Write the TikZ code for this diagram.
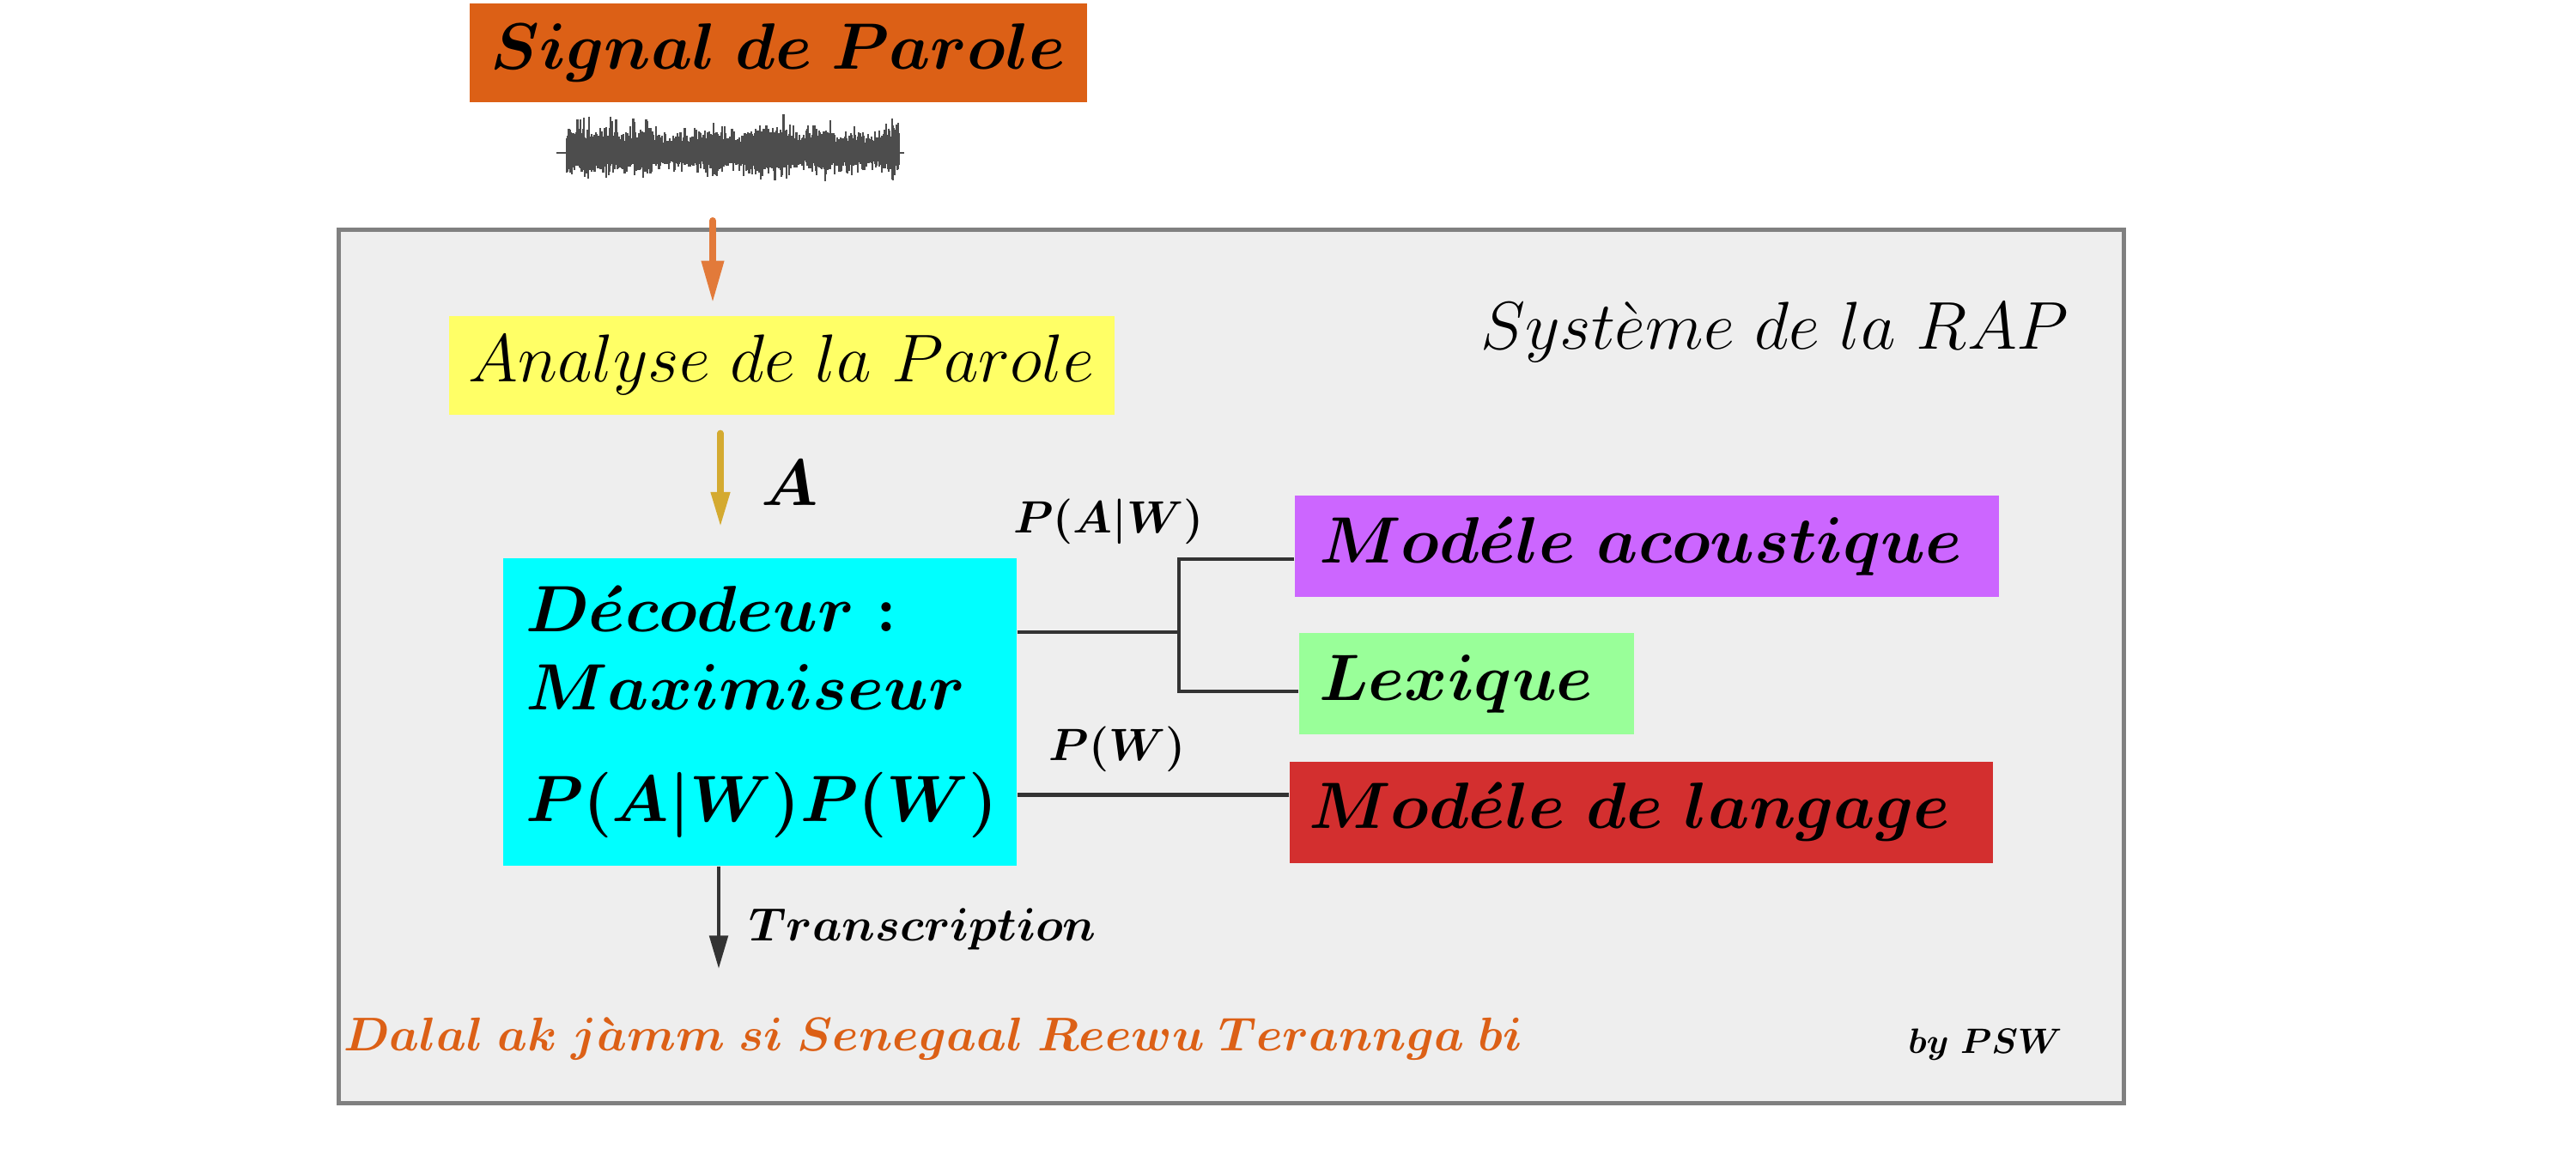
\RequirePackage{fix-cm}
\documentclass[tikz,border=0pt]{standalone}
\usepackage{amsmath}
\usetikzlibrary{arrows.meta,positioning,calc}

\definecolor{signalorange}{RGB}{220,96,22}
\definecolor{arroworange}{RGB}{226,122,58}
\definecolor{gold}{RGB}{212,170,48}
\definecolor{anaYellow}{RGB}{255,255,102}
\definecolor{decCyan}{RGB}{0,255,255}
\definecolor{acPurple}{RGB}{204,102,255}
\definecolor{lexGreen}{RGB}{153,255,153}
\definecolor{langRed}{RGB}{211,47,47}
\definecolor{boxfill}{RGB}{238,238,238}
\definecolor{boxgray}{RGB}{128,128,128}
\definecolor{linkgray}{RGB}{51,51,51}
\definecolor{wavegray}{RGB}{77,77,77}

\begin{document}
\begin{tikzpicture}[
  bigbf/.style={font=\boldmath\fontsize{21.7}{26}\selectfont},
  bigit/.style={font=\fontsize{22.4}{27}\selectfont},
  bloc/.style={inner sep=0pt, minimum height=1.15cm},
  modele/.style={bigbf, inner xsep=0.28cm, inner ysep=0pt, align=left,
    minimum height=1.18cm},
  lien/.style={draw=linkgray, line width=1.3pt},
  wave/.style={draw=wavegray, line width=0.6pt},
  lbl/.style={font=\boldmath\fontsize{15}{18}\selectfont, anchor=base}
]
  \useasboundingbox (0,0) rectangle (30,-13.38);

  % speech signal on top
  \node[bloc, bigbf, fill=signalorange, minimum width=7.19cm] (sig)
    at (9.065,-0.615) {$Signal\ de\ Parole$};

  \pgfmathsetseed{42}
  \foreach \k in {0,...,310} {
    \pgfmathsetmacro{\env}{0.85+0.2*sin(\k*4.3)*cos(\k*1.9)+0.1*sin(\k*11)}
    \pgfmathsetmacro{\xx}{6.60+\k*0.0125}
    \pgfmathsetmacro{\up}{\env*(0.17+0.1*rnd+0.2*rnd^4)}
    \pgfmathsetmacro{\dn}{\env*(0.13+0.08*rnd+0.16*rnd^4)}
    \draw[wave] (\xx,-1.78+\up) -- (\xx,-1.78-\dn);
  }
  \draw[wave] (6.48,-1.78) -- (10.53,-1.78);

  % the RAP system
  \node[draw=boxgray, fill=boxfill, line width=1.4pt, anchor=north west,
        minimum width=20.79cm, minimum height=10.17cm] (rap) at (3.92,-2.65) {};
  \node[bigit, anchor=base east] (rapl) at (24.22,-4.06)
    {$Syst\grave{e}me\ de\ la\ RAP$};

  \node[bloc, bigit, fill=anaYellow, minimum width=7.75cm] (ana)
    at (9.10,-4.25) {$Analyse\ de\ la\ Parole$};

  \node[bigbf, fill=decCyan, inner xsep=0.26cm, text width=5.46cm, align=left,
        minimum height=3.58cm] (dec) at (8.85,-8.29)
    {$D\acute{e}codeur\ {:}$\\ $Maximiseur$\\[11pt] $P(A|W)P(W)$};

  \node[bigbf] (A) at (9.20,-5.62) {$A$};

  % models
  \node[modele, fill=acPurple, text width=7.64cm] (ac) at (19.18,-6.36)
    {$Mod\acute{e}le\ acoustique$};
  \node[modele, fill=lexGreen, inner xsep=0.23cm, text width=3.44cm] (lex)
    at (17.08,-7.96) {$Lexique$};
  \node[modele, fill=langRed, inner xsep=0.22cm, text width=7.75cm] (lang)
    at (19.115,-9.455) {$Mod\acute{e}le\ de\ langage$};

  \node[lbl] (pawl) at (12.91,-6.20) {$P(A|W)$};
  \node[lbl] (pwl) at (13.01,-8.85) {$P(W)$};

  % arrows
  \coordinate (wv) at (8.30,-2.57);
  \draw[arroworange, line width=2.3pt, line cap=round,
        -{Triangle[length=14pt,width=7pt]}, shorten >=0.14cm]
    (wv) -- (wv |- ana.north);

  \coordinate (ax) at (8.39,-5.0);
  \draw[gold, line width=2pt, line cap=round,
        -{Triangle[length=11.5pt,width=6pt]}, shorten <=0.21cm, shorten >=0.36cm]
    (ana.south -| ax) -- (dec.north -| ax);

  \coordinate (tr) at (8.37,-11.28);
  \draw[linkgray, line width=1.4pt, -{Triangle[length=11pt,width=6pt]}]
    (dec.south -| tr) -- (tr);

  % connectors
  \coordinate (jn) at (13.73,-7.36);
  \draw[lien] (dec.east |- jn) -- (jn);
  \draw[lien] ([yshift=-1.5mm]ac.west) -| (jn) |- ([yshift=-0.9mm]lex.west);
  \draw[lien] ([yshift=2mm]lang.west) -- ([yshift=2mm]lang.west -| dec.east);

  % bottom texts
  \node[font=\boldmath\fontsize{15.5}{19}\selectfont, anchor=base west] (trl)
    at (8.60,-10.95) {$Transcription$};
  \node[font=\boldmath\fontsize{15.7}{19}\selectfont, text=signalorange,
        anchor=base west] (dalal) at (3.88,-12.23)
    {$Dalal\ ak\ j\grave{a}mm\ si\ Senegaal\ Reewu\ Terannga\ bi$};
  \node[font=\boldmath\fontsize{11.7}{14}\selectfont, anchor=base west] (psw)
    at (22.10,-12.26) {$by\ PSW$};
\end{tikzpicture}
\end{document}
